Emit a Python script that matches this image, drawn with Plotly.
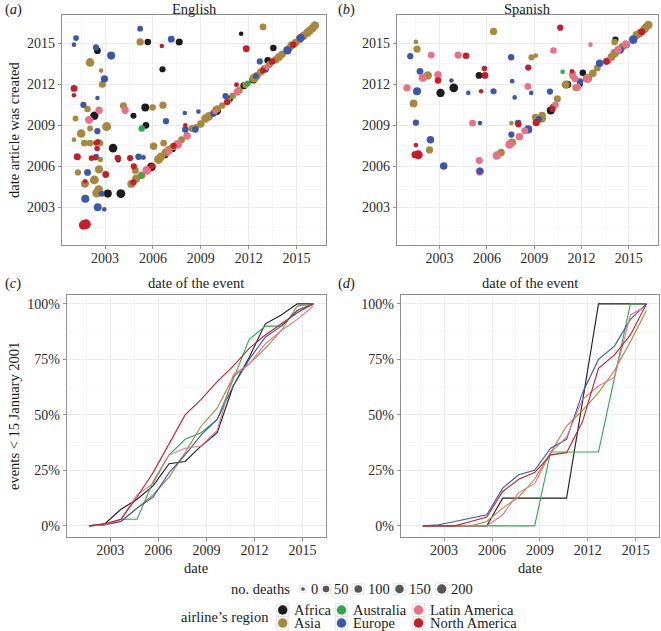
import plotly.graph_objects as go
import math

W, H = 661, 631
FONT = "Liberation Serif"

REGIONS = ["Africa", "Asia", "Australia", "Europe", "Latin America", "North America"]
COLORS = {"Africa": "#1c1c1c", "Asia": "#a8873f", "Australia": "#2fa84f",
          "Europe": "#3b58a8", "Latin America": "#e8708b", "North America": "#c21f2b"}

# ---------------- panel (a): English  (event date, article created, deaths) ----------------
EN_AFRICA = [(2002.52, 2014.46, 60), (2002.33, 2009.7, 130), (2003.5, 2007.33, 150),
             (2003.17, 2004.0, 120), (2003.99, 2004.0, 170), (2005.52, 2010.3, 110),
             (2005.56, 2009.0, 60), (2004.78, 2009.7, 35), (2005.68, 2015.1, 50),
             (2007.65, 2015.1, 70), (2006.6, 2013.1, 40), (2011.53, 2015.7, 5),
             (2013.55, 2014.65, 50), (2003.83, 2006.45, 5), (2005.9, 2005.95, 160),
             (2006.75, 2006.85, 80), (2007.2, 2007.3, 100), (2008.1, 2008.3, 10),
             (2010.0, 2010.07, 150), (2010.82, 2010.94, 50), (2011.7, 2011.9, 70),
             (2012.3, 2012.35, 120), (2013.2, 2013.74, 60), (2014.6, 2014.7, 40),
             (2015.9, 2016.0, 30)]
EN_ASIA = [(2002.06, 2013.6, 150), (2002.75, 2013.0, 5), (2002.83, 2012.0, 70),
           (2001.9, 2010.2, 50), (2001.15, 2009.5, 30), (2003.1, 2008.9, 180),
           (2002.06, 2008.77, 30), (2001.5, 2008.4, 150), (2001.05, 2007.95, 5),
           (2001.7, 2007.7, 60), (2002.06, 2007.7, 60), (2002.7, 2007.7, 40),
           (2002.7, 2006.5, 20), (2001.3, 2005.55, 40), (2002.62, 2005.77, 130),
           (2004.9, 2005.7, 70), (2002.33, 2005.0, 170), (2001.74, 2004.73, 110),
           (2002.48, 2004.04, 180), (2002.6, 2004.3, 150), (2004.15, 2010.43, 70),
           (2005.98, 2010.3, 50), (2006.63, 2010.47, 80), (2005.2, 2015.1, 80),
           (2006.04, 2007.46, 90), (2006.67, 2007.7, 60), (2012.9, 2016.2, 60),
           (2004.64, 2004.71, 110), (2004.95, 2005.1, 130), (2005.3, 2005.35, 90),
           (2006.35, 2006.5, 170), (2006.5, 2006.7, 140), (2006.8, 2007.0, 120),
           (2007.0, 2007.2, 100), (2007.3, 2007.45, 80), (2007.8, 2007.95, 60),
           (2008.45, 2008.77, 70), (2008.7, 2008.85, 50), (2009.0, 2009.1, 90),
           (2009.29, 2009.5, 140), (2009.5, 2009.65, 150), (2009.8, 2009.9, 60),
           (2010.03, 2010.2, 70), (2010.35, 2010.45, 50), (2010.7, 2010.8, 60),
           (2011.0, 2011.15, 50), (2011.4, 2011.55, 70), (2011.8, 2011.95, 40),
           (2012.33, 2012.43, 150), (2012.5, 2012.6, 130), (2012.75, 2012.9, 80),
           (2012.96, 2013.15, 60), (2013.3, 2013.45, 70), (2013.7, 2013.8, 90),
           (2013.9, 2014.0, 110), (2014.1, 2014.2, 80), (2014.43, 2014.5, 100),
           (2014.7, 2014.85, 120), (2014.95, 2015.05, 90), (2015.2, 2015.3, 130),
           (2015.45, 2015.55, 140), (2015.68, 2015.77, 150), (2015.85, 2015.95, 130),
           (2016.0, 2016.1, 120), (2016.15, 2016.3, 140)]
EN_AUSTRALIA = [(2005.3, 2008.77, 50), (2005.26, 2005.3, 20), (2011.95, 2012.06, 30)]
EN_EUROPE = [(2001.18, 2015.38, 25), (2001.05, 2014.9, 5), (2002.43, 2014.7, 40),
             (2003.38, 2014.1, 120), (2002.96, 2012.4, 80), (2002.52, 2011.0, 5),
             (2001.64, 2010.5, 40), (2002.52, 2008.57, 40), (2002.43, 2006.7, 30),
             (2005.1, 2006.7, 50), (2005.4, 2006.65, 10), (2001.9, 2005.55, 60),
             (2002.79, 2003.99, 30), (2001.76, 2003.62, 120), (2002.54, 2003.0, 110),
             (2002.95, 2002.85, 5), (2005.2, 2016.07, 30), (2007.15, 2015.3, 60),
             (2006.82, 2009.3, 40), (2008.03, 2008.7, 50), (2008.0, 2009.9, 5),
             (2008.85, 2010.0, 5), (2012.7, 2013.67, 40), (2013.06, 2013.1, 60),
             (2014.43, 2014.48, 120), (2015.26, 2015.4, 130), (2010.55, 2011.14, 40),
             (2008.66, 2008.7, 50), (2009.8, 2009.85, 40), (2012.45, 2012.6, 30)]
EN_LATAM = [(2002.62, 2010.1, 80), (2002.0, 2009.4, 130), (2004.26, 2010.1, 80),
            (2005.62, 2005.7, 150), (2007.55, 2007.6, 160), (2008.14, 2008.22, 90),
            (2011.28, 2011.44, 80), (2013.1, 2013.25, 30), (2007.0, 2007.1, 60),
            (2009.9, 2010.0, 20)]
EN_NORTHAM = [(2001.05, 2011.7, 60), (2001.05, 2011.2, 5), (2001.26, 2006.7, 70),
              (2002.43, 2007.7, 20), (2002.5, 2007.3, 20), (2002.15, 2006.6, 25),
              (2002.4, 2006.6, 10), (2003.8, 2006.6, 50), (2004.57, 2006.6, 40),
              (2003.04, 2005.4, 60), (2004.8, 2006.0, 40), (2004.78, 2004.83, 40),
              (2001.75, 2004.9, 5), (2001.8, 2001.76, 230), (2001.65, 2001.7, 200),
              (2002.55, 2007.8, 20), (2006.56, 2014.8, 5), (2011.85, 2014.6, 60),
              (2013.48, 2013.67, 50), (2014.8, 2014.9, 50), (2010.65, 2010.7, 40),
              (2011.24, 2011.96, 10), (2008.03, 2009.0, 5), (2007.3, 2007.5, 30),
              (2005.95, 2006.0, 30), (2012.9, 2013.0, 30)]

# ---------------- panel (b): Spanish ----------------
ES_AFRICA = [(2005.5, 2012.65, 60), (2003.06, 2011.37, 140), (2003.9, 2011.74, 160),
             (2010.05, 2010.08, 110), (2011.11, 2011.98, 90), (2012.08, 2012.85, 50),
             (2014.15, 2015.27, 40), (2016.1, 2016.2, 60), (2012.3, 2012.4, 50),
             (2011.9, 2012.0, 30)]
ES_ASIA = [(2001.5, 2015.1, 5), (2001.57, 2014.58, 80), (2006.42, 2015.87, 80),
           (2008.83, 2013.97, 40), (2009.1, 2014.1, 5), (2002.25, 2012.65, 140),
           (2001.35, 2010.6, 110), (2002.36, 2007.2, 80), (2007.55, 2009.16, 5),
           (2006.9, 2007.0, 90), (2007.6, 2007.75, 110), (2009.08, 2009.58, 80),
           (2009.47, 2009.5, 160), (2009.5, 2009.7, 100), (2010.47, 2010.94, 70),
           (2011.0, 2011.98, 130), (2011.65, 2011.76, 80), (2012.4, 2012.43, 170),
           (2012.72, 2012.8, 90), (2013.0, 2013.2, 60), (2013.9, 2014.0, 110),
           (2014.1, 2014.28, 150), (2014.6, 2014.75, 100), (2014.85, 2014.9, 80),
           (2015.5, 2015.6, 120), (2015.7, 2015.75, 130), (2016.24, 2016.34, 140),
           (2016.0, 2016.05, 120), (2011.45, 2012.6, 60), (2014.1, 2015.1, 50)]
ES_AUSTRALIA = [(2010.8, 2012.92, 5)]
ES_EUROPE = [(2001.14, 2014.06, 40), (2007.53, 2013.97, 50), (2001.76, 2012.95, 60),
             (2003.75, 2012.28, 5), (2001.57, 2011.49, 120), (2004.82, 2011.37, 5),
             (2006.42, 2011.49, 40), (2007.6, 2012.23, 5), (2007.76, 2011.04, 5),
             (2008.81, 2011.37, 5), (2010.0, 2011.47, 40), (2001.5, 2009.19, 40),
             (2005.56, 2009.16, 5), (2007.55, 2008.32, 40), (2007.98, 2009.16, 60),
             (2002.42, 2007.95, 90), (2003.26, 2006.02, 90), (2008.62, 2008.7, 120),
             (2013.15, 2013.54, 90), (2015.28, 2015.27, 150), (2014.45, 2014.5, 90),
             (2011.9, 2012.2, 50), (2009.3, 2009.45, 40), (2010.2, 2010.35, 40)]
ES_LATAM = [(2002.47, 2014.14, 60), (2004.18, 2014.14, 80), (2010.22, 2014.48, 50),
            (2012.57, 2014.9, 5), (2001.93, 2012.48, 130), (2002.9, 2012.7, 90),
            (2000.93, 2011.74, 80), (2008.6, 2011.84, 60), (2005.09, 2009.16, 60),
            (2005.52, 2006.42, 70), (2005.55, 2005.62, 140), (2006.63, 2006.79, 140),
            (2007.44, 2007.6, 150), (2008.06, 2008.17, 90), (2008.4, 2008.6, 70),
            (2011.43, 2012.75, 70), (2011.6, 2012.4, 60), (2011.75, 2011.8, 80),
            (2012.35, 2012.4, 110), (2014.32, 2014.53, 90), (2014.8, 2014.95, 80),
            (2010.35, 2010.5, 50), (2013.7, 2013.75, 60)]
ES_EUROPE_TOP = [(2005.56, 2005.65, 60)]
ES_NORTHAM = [(2004.67, 2014.09, 50), (2010.65, 2016.14, 40), (2005.88, 2012.65, 60),
              (2005.84, 2013.15, 20), (2002.9, 2012.28, 50), (2008.62, 2013.22, 40),
              (2005.63, 2011.49, 5), (2001.65, 2006.84, 170), (2001.5, 2007.55, 5),
              (2001.45, 2006.85, 80), (2009.13, 2009.2, 80), (2010.15, 2010.2, 40),
              (2013.58, 2013.67, 60), (2015.82, 2015.84, 70), (2011.4, 2012.95, 5),
              (2008.0, 2009.05, 30)]

# ---------------- panels (c), (d): cumulative share of events ----------------
CUM_DATES = [2001.67, 2002.67, 2003.67, 2004.67, 2005.67, 2006.67, 2007.67, 2008.67,
             2009.67, 2010.67, 2011.67, 2012.67, 2013.67, 2014.67, 2015.67]
EN_CUM = {
    "Africa":        [0, 0.01, 0.075, 0.12, 0.18, 0.28, 0.29, 0.36, 0.42, 0.63, 0.76, 0.91, 0.95, 1.0, 1.0],
    "Asia":          [0, 0.005, 0.02, 0.08, 0.14, 0.22, 0.33, 0.45, 0.53, 0.67, 0.73, 0.8, 0.88, 0.99, 1.0],
    "Australia":     [0, 0.005, 0.03, 0.03, 0.2, 0.32, 0.39, 0.42, 0.48, 0.66, 0.84, 0.9, 0.9, 0.97, 1.0],
    "Europe":        [0, 0.005, 0.02, 0.08, 0.13, 0.24, 0.32, 0.41, 0.48, 0.63, 0.75, 0.85, 0.9, 0.97, 1.0],
    "Latin America": [0, 0.005, 0.03, 0.14, 0.19, 0.32, 0.35, 0.36, 0.43, 0.68, 0.73, 0.82, 0.88, 0.93, 0.99],
    "North America": [0, 0.01, 0.03, 0.13, 0.24, 0.37, 0.5, 0.57, 0.65, 0.72, 0.8, 0.86, 0.91, 0.96, 1.0],
}
ES_CUM = {
    "Africa":        [0, 0, 0, 0, 0, 0.125, 0.125, 0.125, 0.125, 0.125, 0.56, 1.0, 1.0, 1.0, 1.0],
    "Asia":          [0, 0, 0, 0, 0.02, 0.08, 0.13, 0.21, 0.33, 0.45, 0.52, 0.6, 0.7, 0.83, 0.97],
    "Australia":     [0, 0, 0, 0, 0, 0, 0, 0, 0.333, 0.333, 0.333, 0.333, 0.667, 1.0, 1.0],
    "Europe":        [0, 0.005, 0.02, 0.035, 0.05, 0.17, 0.23, 0.25, 0.35, 0.39, 0.6, 0.75, 0.81, 0.93, 1.0],
    "Latin America": [0, 0, 0, 0, 0, 0.05, 0.15, 0.19, 0.33, 0.4, 0.57, 0.63, 0.67, 0.95, 0.99],
    "North America": [0, 0, 0, 0.02, 0.04, 0.155, 0.21, 0.24, 0.32, 0.33, 0.47, 0.71, 0.77, 0.86, 1.0],
}

YEAR_TICKS = [2003, 2006, 2009, 2012, 2015]
PCT_TICKS = [0, 0.25, 0.5, 0.75, 1.0]
PCT_LABELS = ["0%", "25%", "50%", "75%", "100%"]
DEATH_KEYS = [0, 50, 100, 150, 200]


def msize(d):
    return 3.7 + 0.40 * math.sqrt(d)


def X(px):
    return px / W


def Y(py):
    return 1 - py / H


fig = go.Figure()

scatter_sets = [
    ("x", "y", [("Africa", EN_AFRICA), ("Asia", EN_ASIA), ("Australia", EN_AUSTRALIA),
                ("Europe", EN_EUROPE), ("Latin America", EN_LATAM), ("North America", EN_NORTHAM)]),
    ("x2", "y2", [("Africa", ES_AFRICA), ("Asia", ES_ASIA), ("Australia", ES_AUSTRALIA),
                  ("Europe", ES_EUROPE), ("Latin America", ES_LATAM), ("Europe", ES_EUROPE_TOP),
                  ("North America", ES_NORTHAM)]),
]
for xa, ya, groups in scatter_sets:
    for reg, pts in groups:
        fig.add_trace(go.Scatter(
            x=[p[0] for p in pts], y=[p[1] for p in pts], mode="markers",
            marker=dict(color=COLORS[reg], size=[msize(p[2]) for p in pts], line=dict(width=0),
                        opacity=1),
            xaxis=xa, yaxis=ya, showlegend=False, hoverinfo="skip", cliponaxis=False))

for xa, ya, cum in [("x3", "y3", EN_CUM), ("x4", "y4", ES_CUM)]:
    for reg in REGIONS:
        fig.add_trace(go.Scatter(
            x=CUM_DATES, y=cum[reg], mode="lines",
            line=dict(color=COLORS[reg], width=1.1),
            xaxis=xa, yaxis=ya, showlegend=False, hoverinfo="skip"))

# legend keys on a pixel-coordinate axis placed in the legend strip only
LEG_TOP, LEG_BOT = 576, 631
leg_x_size = [303.0, 326.0, 358.3, 399.5, 441.7]
leg_lab_x = [308.5, 332.0, 366.0, 407.0, 449.0]
reg_key_x = [282.7, 282.7, 341.5, 341.5, 418.5, 418.5]
reg_key_y = [610, 623, 610, 623, 610, 623]
reg_order = ["Africa", "Asia", "Australia", "Europe", "Latin America", "North America"]

# key boxes (light squares behind the legend symbols)
fig.add_trace(go.Scatter(
    x=leg_x_size + reg_key_x, y=[589] * 5 + reg_key_y, mode="markers",
    marker=dict(symbol="square", color="#fafafa",
                size=[msize(d) + 3 for d in DEATH_KEYS] + [12.5] * 6,
                line=dict(color="#d4d4d4", width=0.8)),
    xaxis="x5", yaxis="y5", showlegend=False, hoverinfo="skip", cliponaxis=False))
fig.add_trace(go.Scatter(
    x=leg_x_size, y=[589] * 5, mode="markers",
    marker=dict(color="#111111", size=[msize(d) for d in DEATH_KEYS], line=dict(width=0)),
    xaxis="x5", yaxis="y5", showlegend=False, hoverinfo="skip", cliponaxis=False))
fig.add_trace(go.Scatter(
    x=reg_key_x, y=reg_key_y, mode="markers",
    marker=dict(color=[COLORS[r] for r in reg_order], size=9.5, line=dict(width=0)),
    xaxis="x5", yaxis="y5", showlegend=False, hoverinfo="skip", cliponaxis=False))

grid = "#ebebeb"
minor_grid = "#f6f6f6"
border = "#8e8e8e"
tickfont = dict(family=FONT, size=14, color="#2b2b2b")


def year_axis(domain, rng, anchor, standoff=0):
    return dict(domain=domain, range=rng, anchor=anchor, tickmode="array",
                tickvals=YEAR_TICKS, ticktext=[str(t) for t in YEAR_TICKS],
                showgrid=True, gridcolor=grid, gridwidth=1,
                minor=dict(tickvals=[2001.5, 2004.5, 2007.5, 2010.5, 2013.5, 2016.5],
                           showgrid=True, gridcolor=minor_grid, gridwidth=0.6, ticks=""),
                showline=True, mirror=True, linecolor=border, linewidth=1.4,
                ticks="outside", ticklen=3, tickcolor=border, tickwidth=1,
                ticklabelstandoff=standoff,
                tickfont=tickfont, zeroline=False, fixedrange=True)


def pct_axis(domain, anchor):
    return dict(domain=domain, range=[-0.05, 1.04], anchor=anchor, tickmode="array",
                tickvals=PCT_TICKS, ticktext=PCT_LABELS,
                showgrid=True, gridcolor=grid, gridwidth=1,
                minor=dict(tickvals=[0.125, 0.375, 0.625, 0.875],
                           showgrid=True, gridcolor=minor_grid, gridwidth=0.6, ticks=""),
                showline=True, mirror=True, linecolor=border, linewidth=1.4,
                ticks="outside", ticklen=3, tickcolor=border, tickwidth=1,
                tickfont=tickfont, zeroline=False, fixedrange=True)


top_y = [Y(245), Y(15)]
bot_y = [Y(537), Y(295)]
layout = dict(
    width=W, height=H, margin=dict(l=0, r=0, t=0, b=0),
    paper_bgcolor="white", plot_bgcolor="white",
    font=dict(family=FONT, color="#1a1a1a"),
    xaxis=year_axis([X(62), X(326)], [2000.3, 2016.85], "y", -3),
    yaxis=year_axis(top_y, [2000.24, 2017.07], "x"),
    xaxis2=year_axis([X(397), X(658)], [2000.3, 2016.85], "y2", -3),
    yaxis2=year_axis(top_y, [2000.24, 2017.07], "x2"),
    xaxis3=year_axis([X(67), X(326)], [2000.3, 2016.46], "y3", -3),
    yaxis3=pct_axis(bot_y, "x3"),
    xaxis4=year_axis([X(401), X(659)], [2000.3, 2016.46], "y4", -3),
    yaxis4=pct_axis(bot_y, "x4"),
    xaxis5=dict(domain=[0, 1], range=[0, W], anchor="y5", visible=False, fixedrange=True),
    yaxis5=dict(domain=[Y(LEG_BOT), Y(LEG_TOP)], range=[LEG_BOT, LEG_TOP], anchor="x5",
                visible=False, fixedrange=True),
    showlegend=False,
)
fig.update_layout(**layout)

anns = []


def txt(px, py, s, size=14.5, xanchor="center", angle=0):
    anns.append(dict(x=X(px), y=Y(py), xref="paper", yref="paper", text=s, showarrow=False,
                     xanchor=xanchor, yanchor="middle", textangle=angle,
                     font=dict(family=FONT, size=size, color="#1a1a1a")))


txt(3, 9, "(<i>a</i>)", 14.5, "left")
txt(336, 9, "(<i>b</i>)", 14.5, "left")
txt(3, 283, "(<i>c</i>)", 14.5, "left")
txt(336, 283, "(<i>d</i>)", 14.5, "left")
txt(194, 9, "English")
txt(527, 9, "Spanish")
txt(196, 283, "date of the event")
txt(530, 283, "date of the event")
txt(14, 130, "date article was created", angle=-90)
txt(14, 416, "events < 15 January 2001", angle=-90)
txt(196, 568, "date")
txt(530, 568, "date")
txt(292, 589, "no. deaths", 14.5, "right")
for lx, d in zip(leg_lab_x, DEATH_KEYS):
    txt(lx, 589, str(d), 14.5, "left")
txt(271, 617, "airline’s region", 14.5, "right")
for kx, ky, r in zip(reg_key_x, reg_key_y, reg_order):
    txt(kx + 9.5, ky, r, 14.5, "left")
fig.update_layout(annotations=anns)

fig.write_html("out.html", config={"displayModeBar": False},
               post_script="document.body.style.margin='0';")
